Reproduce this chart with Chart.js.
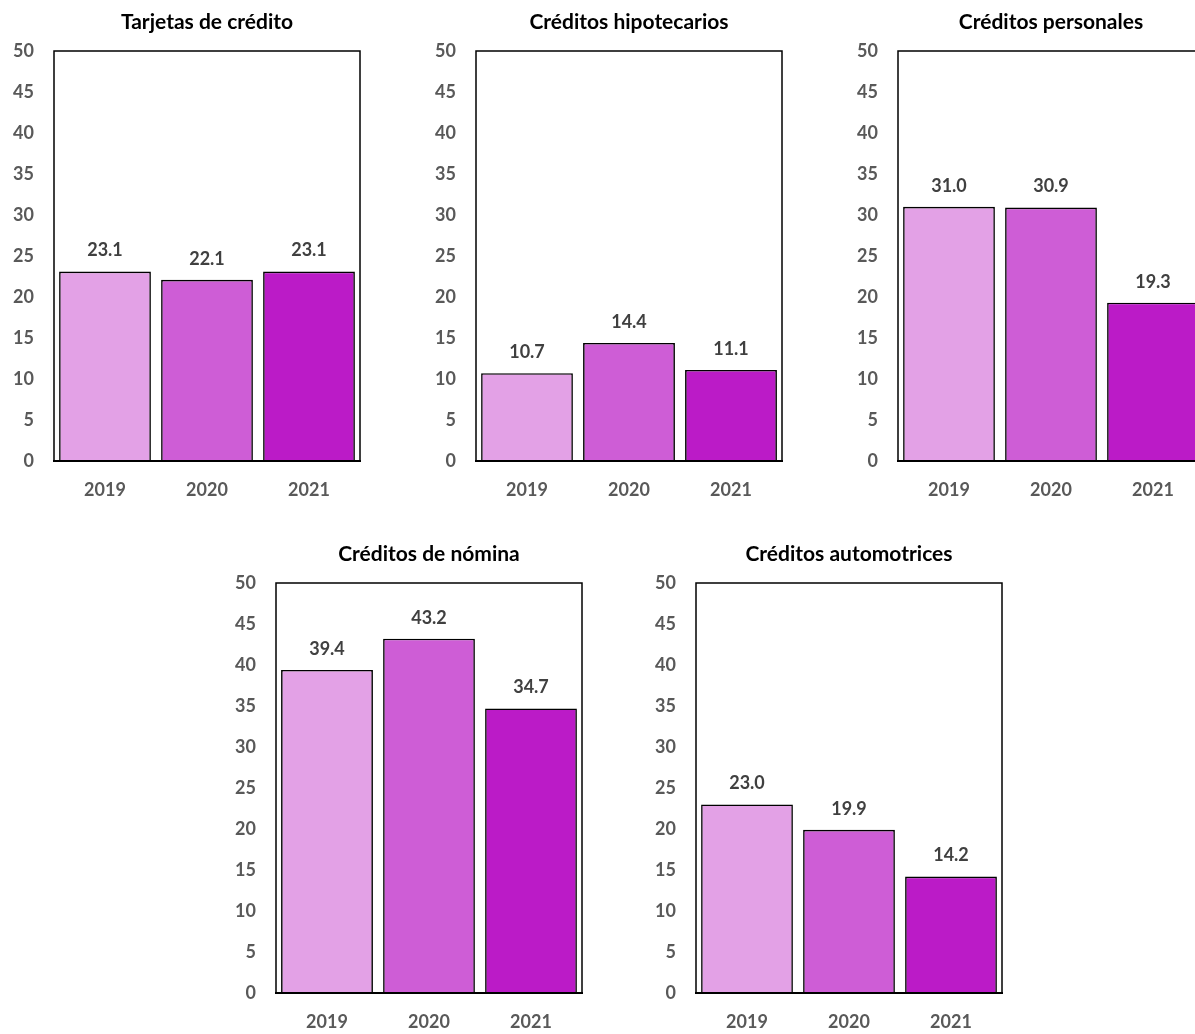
<!DOCTYPE html>
<html>
<head>
<meta charset="utf-8">
<script src="https://cdn.jsdelivr.net/npm/chart.js@4.4.0/dist/chart.umd.min.js"></script>
<style>
  html, body { margin: 0; padding: 0; background: #fff; overflow: hidden; }
  body { width: 1195px; height: 1034px; position: relative; }
  .box { position: absolute; }
</style>
</head>
<body>
<div class="box" style="left:0px;top:0px"><canvas id="c1" width="368" height="511"></canvas></div>
<div class="box" style="left:422px;top:0px"><canvas id="c2" width="368" height="511"></canvas></div>
<div class="box" style="left:844px;top:0px"><canvas id="c3" width="368" height="511"></canvas></div>
<div class="box" style="left:222px;top:532px"><canvas id="c4" width="368" height="511"></canvas></div>
<div class="box" style="left:642px;top:532px"><canvas id="c5" width="368" height="511"></canvas></div>
<script>
/* ============ data ============ */
const years = ["2019", "2020", "2021"];
const titles = ["Tarjetas de crédito", "Créditos hipotecarios", "Créditos personales", "Créditos de nómina", "Créditos automotrices"];
const tarjetas = [23.1, 22.1, 23.1];
const hipotecarios = [10.7, 14.4, 11.1];
const personales = [31.0, 30.9, 19.3];
const nomina = [39.4, 43.2, 34.7];
const automotrices = [23.0, 19.9, 14.2];
const yearColors = ["#E3A1E6", "#CE5DD6", "#BB1BC7"];

const FONT = "Lato, 'Open Sans', sans-serif";

/* frame around plot area + value labels above bars */
const framePlugin = {
    id: "frame",
    beforeDatasetsDraw(chart) {
        const a = chart.chartArea, ctx = chart.ctx;
        ctx.save();
        ctx.strokeStyle = "#000";
        ctx.lineWidth = 1.5;
        ctx.strokeRect(a.left, a.top, a.right - a.left, a.bottom - a.top);
        ctx.restore();
    },
    afterDatasetsDraw(chart) {
        const a = chart.chartArea, ctx = chart.ctx;
        ctx.save();
        ctx.strokeStyle = "#000";
        ctx.lineWidth = 2;
        ctx.beginPath();
        ctx.moveTo(a.left - 1, a.bottom);
        ctx.lineTo(a.right + 1, a.bottom);
        ctx.stroke();
        ctx.fillStyle = "#404040";
        ctx.font = "bold 18px " + FONT;
        ctx.textAlign = "center";
        ctx.textBaseline = "middle";
        const ds = chart.data.datasets[0];
        chart.getDatasetMeta(0).data.forEach((bar, i) => {
            ctx.fillText(ds.data[i].toFixed(1), bar.x, bar.y - 21);
        });
        ctx.restore();
    }
};

function makeChart(id, title, values) {
    new Chart(document.getElementById(id), {
        type: "bar",
        data: {
            labels: years,
            datasets: [{
                data: values,
                backgroundColor: yearColors,
                borderColor: "#000",
                borderWidth: 1.6,
                barPercentage: 0.9,
                categoryPercentage: 1.0
            }]
        },
        options: {
            responsive: false,
            animation: false,
            layout: { padding: { left: 0, right: 8, top: 0, bottom: 0 } },
            plugins: {
                legend: { display: false },
                tooltip: { enabled: false },
                title: {
                    display: true,
                    text: title,
                    fullSize: false,
                    color: "#000",
                    font: { family: FONT, size: 21, weight: "bold", lineHeight: 1.2 },
                    padding: { top: 10, bottom: 15.8 }
                }
            },
            scales: {
                x: {
                    grid: { display: false, drawTicks: false },
                    border: { display: false },
                    ticks: { color: "#595959", font: { family: FONT, size: 18, weight: "bold" }, padding: 18 },
                    afterFit(s) { s.height = 50; }
                },
                y: {
                    min: 0, max: 50,
                    grid: { display: false, drawTicks: false },
                    border: { display: false },
                    ticks: { stepSize: 5, color: "#595959", font: { family: FONT, size: 18, weight: "bold" }, padding: 20 },
                    afterFit(s) { s.width = 54; }
                }
            }
        },
        plugins: [framePlugin]
    });
}

makeChart("c1", titles[0], tarjetas);
makeChart("c2", titles[1], hipotecarios);
makeChart("c3", titles[2], personales);
makeChart("c4", titles[3], nomina);
makeChart("c5", titles[4], automotrices);
</script>
</body>
</html>
